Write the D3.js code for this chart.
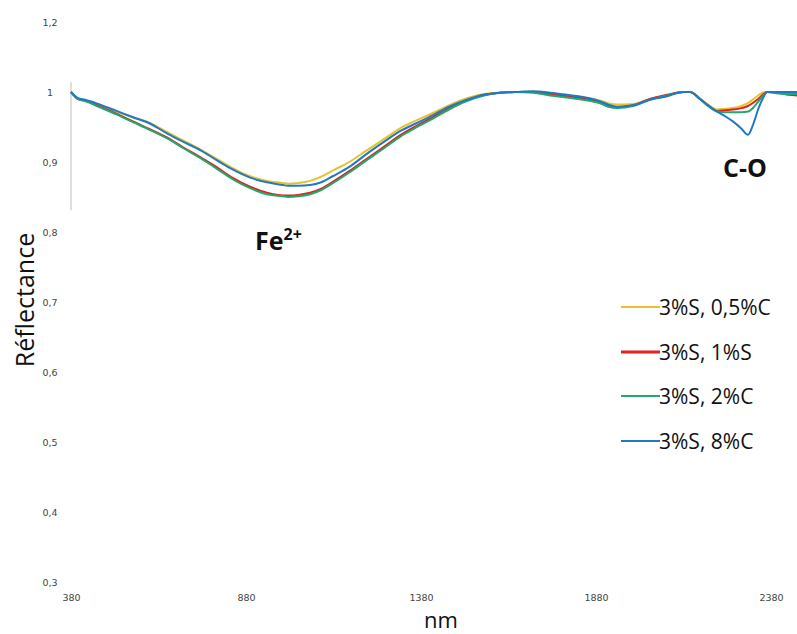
<!DOCTYPE html>
<html><head><meta charset="utf-8">
<script src="https://cdn.jsdelivr.net/npm/d3@7"></script>
<style>body{margin:0;background:#fff}svg{display:block}</style>
</head><body>
<svg id="chart" width="797" height="634"></svg>
<script>
const wavelengths = [380,400,420,463,510,557,605,654,700,749,795,843,890,940,986,1000,1030,1063,1095,1129,1175,1226,1275,1320,1365,1414,1460,1511,1560,1606,1650,1700,1749,1797,1843,1891,1915,1940,1986,2034,2083,2129,2149,2177,2200,2226,2250,2271,2295,2314,2330,2343,2356,2369,2400,2430,2460];
const seriesNames = ["3%S, 0,5%C","3%S, 1%S","3%S, 2%C","3%S, 8%C"];
const yellowVals = [1.0,0.991,0.988,0.981,0.972,0.964,0.956,0.943,0.931,0.918,0.905,0.891,0.880,0.873,0.870,0.869,0.870,0.873,0.879,0.888,0.900,0.917,0.933,0.948,0.959,0.970,0.981,0.991,0.997,0.999,1.0,1.0,0.998,0.995,0.992,0.988,0.984,0.982,0.983,0.990,0.995,1.0,1.0,0.991,0.982,0.975,0.976,0.977,0.980,0.984,0.990,0.995,0.999,1.0,1.0,1.0,1.0];
const redVals = [1.0,0.990,0.988,0.979,0.969,0.958,0.947,0.935,0.921,0.907,0.893,0.877,0.865,0.856,0.852,0.852,0.853,0.856,0.862,0.872,0.887,0.905,0.922,0.938,0.951,0.964,0.977,0.988,0.996,0.999,1.0,1.0,0.997,0.994,0.991,0.986,0.981,0.978,0.981,0.990,0.996,1.0,1.0,0.990,0.981,0.973,0.974,0.975,0.977,0.980,0.985,0.990,0.996,1.0,0.999,0.996,0.995];
const greenVals = [1.0,0.990,0.987,0.978,0.968,0.957,0.946,0.934,0.920,0.906,0.891,0.875,0.863,0.854,0.851,0.850,0.851,0.854,0.860,0.870,0.885,0.903,0.920,0.936,0.949,0.962,0.975,0.987,0.995,0.999,1.0,0.999,0.995,0.992,0.989,0.984,0.979,0.977,0.980,0.989,0.995,1.0,1.0,0.990,0.980,0.972,0.971,0.971,0.971,0.972,0.978,0.986,0.994,1.0,0.998,0.997,0.997];
const blueVals = [1.0,0.991,0.989,0.982,0.973,0.964,0.955,0.941,0.929,0.917,0.903,0.889,0.878,0.871,0.867,0.866,0.866,0.867,0.871,0.880,0.893,0.912,0.929,0.944,0.955,0.967,0.979,0.989,0.996,0.999,1.0,1.001,0.999,0.996,0.993,0.987,0.982,0.979,0.981,0.989,0.994,1.0,1.0,0.990,0.981,0.972,0.965,0.958,0.948,0.939,0.955,0.975,0.990,1.0,1.0,1.0,1.0];
const seriesColors = ["#e8c22a","#e3201f","#22a86c","#2179c6"];
const xTicks = [380,880,1380,1880,2380];
const yTicks = [0.3,0.4,0.5,0.6,0.7,0.8,0.9,1.0,1.1];
const yTickLabels = ["0,3","0,4","0,5","0,6","0,7","0,8","0,9","1","1,2"];

const svg = d3.select("#chart");
const x = d3.scaleLinear().domain([380,2380]).range([71,771]);
const y = d3.scaleLinear().domain([0.3,1.1]).range([582,22]);

const allVals = [yellowVals, redVals, greenVals, blueVals];

// y axis line (partial, faint)
svg.append("line").attr("x1",x(380)).attr("x2",x(380))
  .attr("y1",y(1.014)).attr("y2",y(0.831))
  .attr("stroke","#c8c8c8").attr("stroke-width",1.2);

// y tick labels
const yAxis = d3.axisLeft(y).tickValues(yTicks).tickSize(0).tickPadding(0)
  .tickFormat((d,i)=>yTickLabels[i]);
const gy = svg.append("g").attr("transform","translate(50,0)").call(yAxis);
gy.select(".domain").remove();
gy.selectAll("text").attr("font-family","DejaVu Sans").attr("font-size",9.5).attr("fill","#444").attr("text-anchor","middle");

// x tick labels
const xAxis = d3.axisBottom(x).tickValues(xTicks).tickSize(0).tickPadding(0).tickFormat(d=>d);
const gx = svg.append("g").attr("transform","translate(0,594)").call(xAxis);
gx.select(".domain").remove();
gx.selectAll("text").attr("font-family","DejaVu Sans").attr("font-size",9.5).attr("fill","#444");

// lines
const line = d3.line().x((d,i)=>x(wavelengths[i])).y(d=>y(d)).curve(d3.curveMonotoneX);
allVals.forEach((vals,k)=>{
  svg.append("path").datum(vals).attr("d",line).attr("fill","none")
    .attr("stroke",seriesColors[k]).attr("stroke-width",2);
});

// annotations
svg.append("text").attr("x",255).attr("y",250).attr("font-family","Open Sans, sans-serif")
  .attr("font-weight","bold").attr("font-size",25).attr("fill","#111")
  .text("Fe").append("tspan").attr("dy",-10).attr("font-size",16).text("2+");
svg.append("text").attr("x",723).attr("y",177).attr("font-family","Open Sans, sans-serif")
  .attr("font-weight","bold").attr("font-size",25).attr("fill","#111").text("C-O");

// axis titles
svg.append("text").attr("x",441).attr("y",628).attr("text-anchor","middle")
  .attr("font-family","Open Sans, sans-serif").attr("font-size",22).attr("fill","#111").text("nm");
svg.append("text").attr("transform","translate(34,300) rotate(-90)").attr("text-anchor","middle")
  .attr("font-family","Open Sans, sans-serif").attr("font-size",25).attr("fill","#111").text("Réflectance");

// legend
const legY = [307,352,396,441];
seriesNames.forEach((n,k)=>{
  svg.append("line").attr("x1",621).attr("x2",660).attr("y1",legY[k]).attr("y2",legY[k])
    .attr("stroke",seriesColors[k]).attr("stroke-width",k===1?3:2);
  svg.append("text").attr("x",659).attr("y",legY[k]+8).attr("font-family","Open Sans, sans-serif")
    .attr("font-size",21).attr("fill","#111").text(n);
});
</script>
</body></html>
